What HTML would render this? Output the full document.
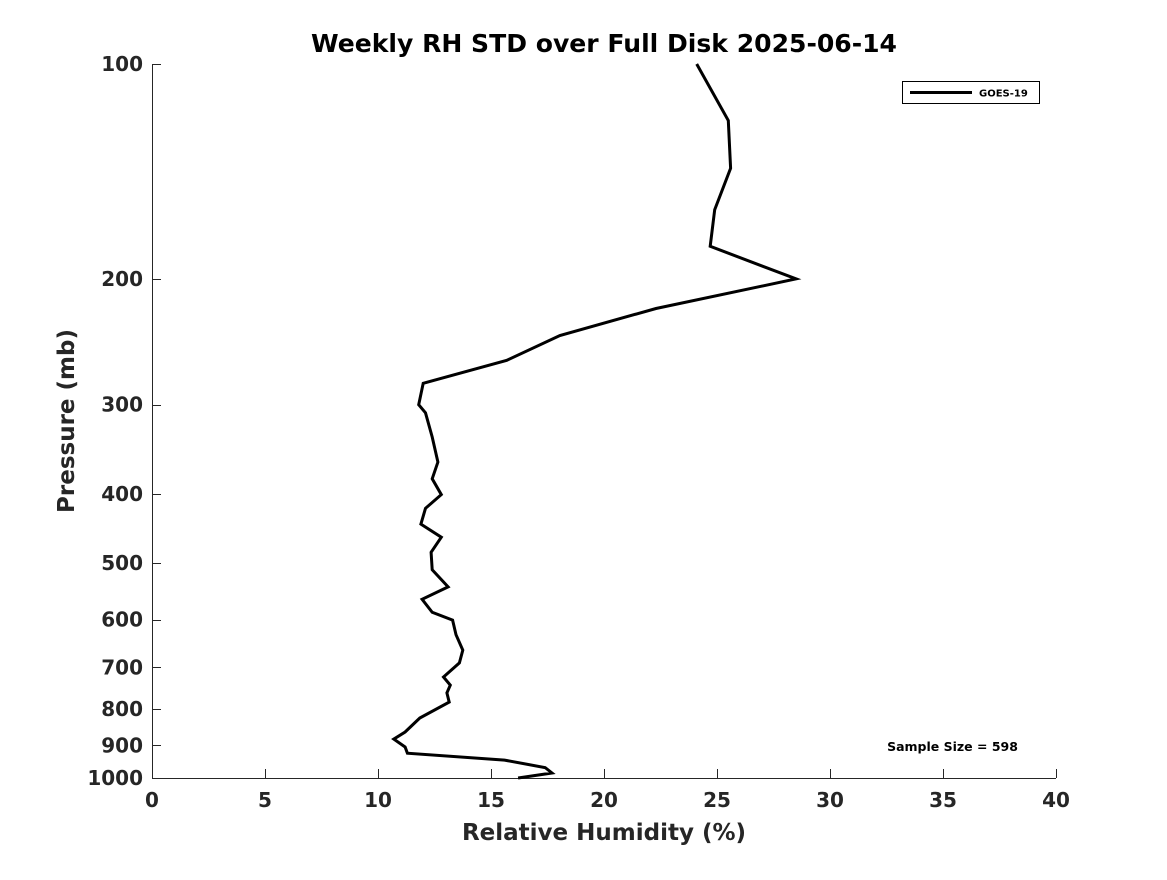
<!DOCTYPE html>
<html><head><meta charset="utf-8"><style>
body{margin:0;background:#fff;}
svg text{font-family:"DejaVu Sans","Liberation Sans",sans-serif;font-weight:bold;}
</style></head><body>
<svg id="chart" width="1167" height="875" viewBox="0 0 1167 875" xmlns="http://www.w3.org/2000/svg">
<rect width="1167" height="875" fill="#fff"/>
<text x="604" y="52" text-anchor="middle" font-size="25" fill="#000" textLength="586" lengthAdjust="spacingAndGlyphs">Weekly RH STD over Full Disk 2025-06-14</text>
<g id="axes"></g>
<g id="series"></g>
<g>
<rect x="902.5" y="81.5" width="137" height="22" fill="#fff" stroke="#000" stroke-width="1"/>
<line x1="910" y1="92.5" x2="972" y2="92.5" stroke="#000" stroke-width="3"/>
<text x="979" y="96.5" font-size="10" fill="#000">GOES-19</text>
</g>
<text x="952.5" y="751" text-anchor="middle" font-size="12.5" fill="#000">Sample Size = 598</text>
<text x="604" y="840" text-anchor="middle" font-size="23" fill="#262626">Relative Humidity (%)</text>
<text transform="translate(74,421) rotate(-90)" text-anchor="middle" font-size="23" fill="#262626">Pressure (mb)</text>
</svg>
<script>
const xTicks = [0,5,10,15,20,25,30,35,40];
const yTicks = [100,200,300,400,500,600,700,800,900,1000];
const rhValues = [24.1,25.5,25.6,24.9,24.7,28.5,22.3,18.05,15.7,12.0,11.8,12.1,12.4,12.65,12.4,12.8,12.1,11.9,12.8,12.35,12.4,13.1,11.95,12.4,13.3,13.45,13.75,13.6,12.9,13.2,13.05,13.15,11.85,11.2,10.7,11.2,11.3,15.6,17.4,17.7,16.2];
const pressures = [100,120,140,160,180,200,220,240,260,280,300,308,333,361,381,401,419,441,460,483,511,540,562,586,601,630,662,690,722,741,760,783,824,862,882,905,923,944,967,984,1000];
const L=152,R=1056,T=64,B=778;
function xs(v){return L+(v-0)/(40-0)*(R-L);}
function ys(p){return T+(Math.log10(p)-2)/(3-2)*(B-T);}
const NS='http://www.w3.org/2000/svg';
const ax=document.getElementById('axes');
function mk(tag,attrs,parent){const e=document.createElementNS(NS,tag);for(const k in attrs)e.setAttribute(k,attrs[k]);parent.appendChild(e);return e;}
const xl=mk('line',{x1:L,y1:B+0.5,x2:R,y2:B+0.5,stroke:'#262626','stroke-width':1},ax);


const yl=mk('line',{x1:L+0.5,y1:T,x2:L+0.5,y2:B,stroke:'#262626','stroke-width':1},ax);


xTicks.forEach(v=>{
  const x=Math.round(xs(v))+0.5;
  const t=mk('line',{x1:x,y1:B,x2:x,y2:B-9,stroke:'#262626','stroke-width':1},ax);
  
  
  const tx=mk('text',{x:xs(v),y:B+29,'text-anchor':'middle','font-size':20,fill:'#262626'},ax);
  tx.textContent=v;
  
  
});
yTicks.forEach(p=>{
  const y=Math.round(ys(p))+0.5;
  const t=mk('line',{x1:L,y1:y,x2:L+9,y2:y,stroke:'#262626','stroke-width':1},ax);
  
  
  const tx=mk('text',{x:L-9,y:ys(p)+7,'text-anchor':'end','font-size':20,fill:'#262626'},ax);
  tx.textContent=p;
  
  
});
const pts=rhValues.map((v,i)=>xs(v).toFixed(1)+','+ys(pressures[i]).toFixed(1)).join(' ');
const line=mk('polyline',{points:pts,fill:'none',stroke:'#000','stroke-width':3,'stroke-linejoin':'miter'},document.getElementById('series'));


</script>
</body></html>
